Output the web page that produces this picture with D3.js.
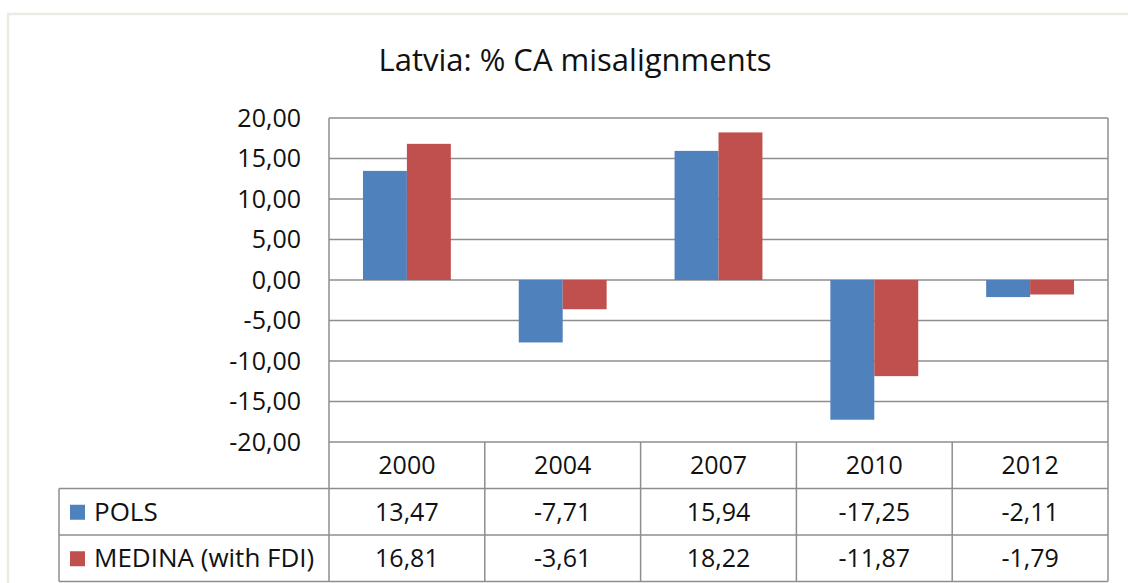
<!DOCTYPE html>
<html>
<head>
<meta charset="utf-8">
<script src="https://cdn.jsdelivr.net/npm/d3@7"></script>
<style>
  body { margin: 0; background: #fff; }
  svg { display: block; font-family: "Open Sans", sans-serif; }
</style>
</head>
<body>
<div id="chart"></div>
<script>
// data
var years = ["2000", "2004", "2007", "2010", "2012"];
var seriesNames = ["POLS", "MEDINA (with FDI)"];
var pols = [13.47, -7.71, 15.94, -17.25, -2.11];
var medina = [16.81, -3.61, 18.22, -11.87, -1.79];
var yTicks = [20, 15, 10, 5, 0, -5, -10, -15, -20];
var colors = ["#4F81BD", "#C0504D"];

var W = 1128, H = 583;
var plot = {left: 329, right: 1108, top: 118, bottom: 442};
var rowH = 46.5;
var fs = "25px";

var svg = d3.select("#chart").append("svg").attr("width", W).attr("height", H);

// outer chart frame
svg.append("rect")
    .attr("x", 8).attr("y", 14)
    .attr("width", W + 20).attr("height", H + 20)
    .attr("fill", "none")
    .attr("stroke", "#ECEAE3")
    .attr("stroke-width", 2.5);

svg.append("text")
    .attr("x", 575).attr("y", 71)
    .attr("text-anchor", "middle")
    .style("font-size", "31px")
    .attr("fill", "#111")
    .text("Latvia: % CA misalignments");

var x0 = d3.scaleBand().domain(years).range([plot.left, plot.right]);
var gap = x0.bandwidth() * 0.218;
var x1 = d3.scaleBand().domain(seriesNames).range([gap, x0.bandwidth() - gap]);
var y = d3.scaleLinear().domain([-20, 20]).range([plot.bottom, plot.top]);

var grid = "#8E8E8E";
var fmt = function(v) { return d3.format(".2f")(v).replace(".", ",").replace("−", "-"); };

// gridlines
svg.append("g").selectAll("line")
    .data(yTicks)
  .enter().append("line")
    .attr("x1", plot.left).attr("x2", plot.right)
    .attr("y1", function(d) { return y(d); })
    .attr("y2", function(d) { return y(d); })
    .attr("stroke", grid)
    .attr("stroke-width", 1.5);

// y tick labels
svg.append("g").selectAll("text")
    .data(yTicks)
  .enter().append("text")
    .attr("x", 301)
    .attr("y", function(d) { return y(d); })
    .attr("dy", "0.35em")
    .attr("text-anchor", "end")
    .style("font-size", fs)
    .attr("fill", "#111")
    .text(fmt);

// bars
var values = [pols, medina];
var groups = svg.append("g").selectAll("g")
    .data(seriesNames)
  .enter().append("g")
    .attr("fill", function(d, i) { return colors[i]; });

groups.selectAll("rect")
    .data(function(s, i) { return years.map(function(yr, j) { return {year: yr, s: s, v: values[i][j]}; }); })
  .enter().append("rect")
    .attr("x", function(d) { return x0(d.year) + x1(d.s); })
    .attr("width", x1.bandwidth())
    .attr("y", function(d) { return y(Math.max(0, d.v)); })
    .attr("height", function(d) { return Math.abs(y(d.v) - y(0)); });

// plot side borders
[plot.left, plot.right].forEach(function(xx) {
    svg.append("line")
        .attr("x1", xx).attr("x2", xx)
        .attr("y1", plot.top).attr("y2", plot.bottom + rowH * 3)
        .attr("stroke", grid).attr("stroke-width", 1.5);
});

// data table
var table = svg.append("g");
var tLeft = 59;
[1, 2, 3].forEach(function(r) {
    table.append("line")
        .attr("x1", tLeft).attr("x2", plot.right)
        .attr("y1", plot.bottom + rowH * r).attr("y2", plot.bottom + rowH * r)
        .attr("stroke", grid).attr("stroke-width", 1.5);
});
table.append("line")
    .attr("x1", tLeft).attr("x2", tLeft)
    .attr("y1", plot.bottom + rowH).attr("y2", plot.bottom + rowH * 3)
    .attr("stroke", grid).attr("stroke-width", 1.5);
years.forEach(function(yr, j) {
    if (j > 0) {
        table.append("line")
            .attr("x1", x0(yr)).attr("x2", x0(yr))
            .attr("y1", plot.bottom).attr("y2", plot.bottom + rowH * 3)
            .attr("stroke", grid).attr("stroke-width", 1.5);
    }
    table.append("text")
        .attr("x", x0(yr) + x0.bandwidth() / 2)
        .attr("y", plot.bottom + rowH / 2)
        .attr("dy", "0.35em")
        .attr("text-anchor", "middle")
        .style("font-size", fs)
        .attr("fill", "#111")
        .text(yr);
});

seriesNames.forEach(function(s, i) {
    var cy = plot.bottom + rowH * (i + 1) + rowH / 2;
    table.append("rect")
        .attr("x", 70).attr("y", cy - 7)
        .attr("width", 15).attr("height", 15)
        .attr("fill", colors[i]);
    table.append("text")
        .attr("x", 94).attr("y", cy)
        .attr("dy", "0.35em")
        .style("font-size", "26px")
        .attr("fill", "#111")
        .text(s);
    values[i].forEach(function(v, j) {
        table.append("text")
            .attr("x", x0(years[j]) + x0.bandwidth() / 2)
            .attr("y", cy)
            .attr("dy", "0.35em")
            .attr("text-anchor", "middle")
            .style("font-size", fs)
            .attr("fill", "#111")
            .text(fmt(v));
    });
});
</script>
</body>
</html>
